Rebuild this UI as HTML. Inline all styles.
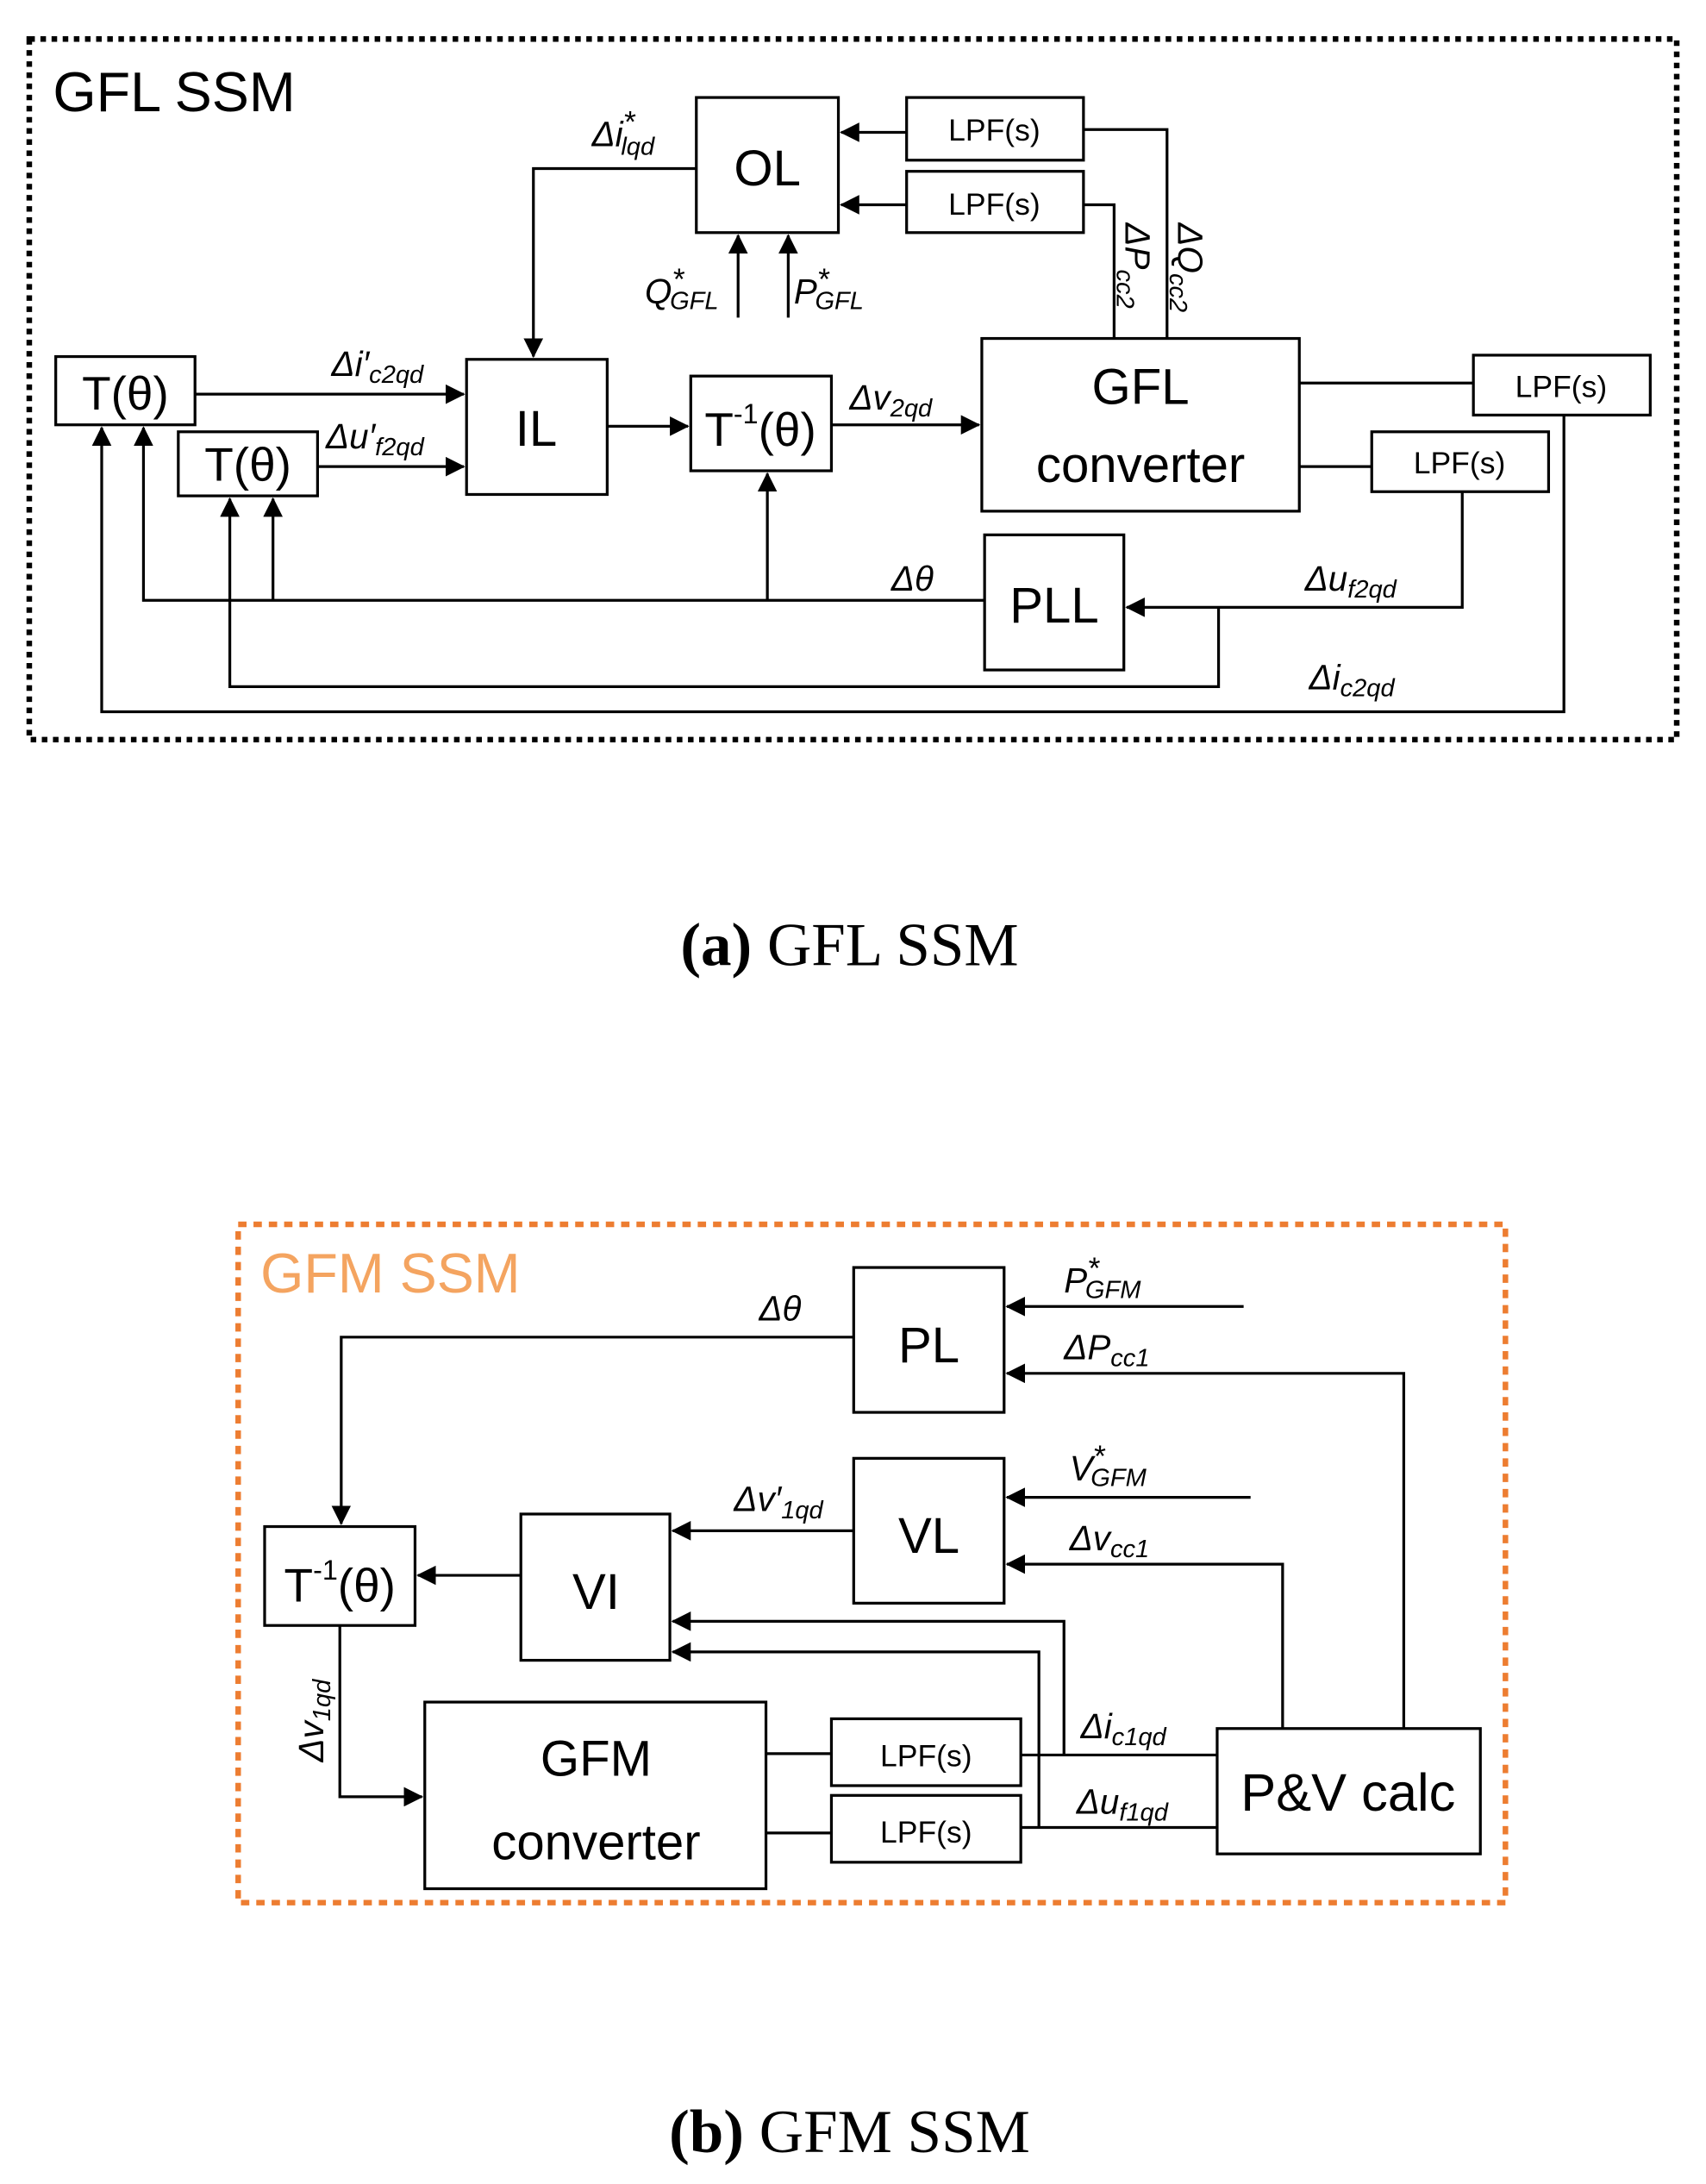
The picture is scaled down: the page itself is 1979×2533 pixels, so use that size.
<!DOCTYPE html>
<html><head><meta charset="utf-8"><style>
html,body{margin:0;padding:0;background:#fff}
svg{display:block}
text{font-family:"Liberation Sans",sans-serif}
.b{font-size:36px;text-anchor:middle}
.l{font-size:22px;text-anchor:middle}
.i{font-size:25px;font-style:italic}
.s{font-size:18px}
</style></head><body>
<svg width="1979" height="2533" viewBox="0 0 1225 1568" xmlns="http://www.w3.org/2000/svg">
<defs>
<marker id="a" markerWidth="14" markerHeight="14" refX="13" refY="7" orient="auto" markerUnits="userSpaceOnUse"><path d="M0,0 L14,7 L0,14z" fill="#000"/></marker>
<marker id="A" markerWidth="14" markerHeight="14" refX="13" refY="7" orient="auto" markerUnits="userSpaceOnUse"><path d="M0,0 L14,7 L0,14z" fill="#000"/></marker>
</defs>
<g fill="none" stroke="#000" stroke-width="2">
<rect x="21" y="28" width="1183" height="503" stroke-width="4" stroke-dasharray="4 4"/>
<rect x="500" y="70" width="102" height="97"/>
<rect x="651" y="70" width="127" height="45"/>
<rect x="651" y="123" width="127" height="44"/>
<rect x="40" y="256" width="100" height="49"/>
<rect x="128" y="310" width="100" height="46"/>
<rect x="335" y="258" width="101" height="97"/>
<rect x="496" y="270" width="101" height="68"/>
<rect x="705" y="243" width="228" height="124"/>
<rect x="1058" y="255" width="127" height="43"/>
<rect x="985" y="310" width="127" height="43"/>
<rect x="707" y="384" width="100" height="97"/>
<path d="M651,95H604" marker-end="url(#A)"/>
<path d="M651,147H604" marker-end="url(#A)"/>
<path d="M778,93H838V243M778,147H800V243"/>
<path d="M500,121H383V256" marker-end="url(#a)"/>
<path d="M530,228V169" marker-end="url(#a)"/>
<path d="M566,228V169" marker-end="url(#a)"/>
<path d="M140,283H333" marker-end="url(#a)"/>
<path d="M228,335H333" marker-end="url(#a)"/>
<path d="M436,306H494" marker-end="url(#a)"/>
<path d="M597,305H703" marker-end="url(#a)"/>
<path d="M933,275H1058M933,335H985"/>
<path d="M1123,298V511H73V307" marker-end="url(#a)"/>
<path d="M1050,353V436H809" marker-end="url(#A)"/>
<path d="M875,436V493H165V358" marker-end="url(#a)"/>
<path d="M707,431H103V307" marker-end="url(#a)"/>
<path d="M196,431V358" marker-end="url(#a)"/>
<path d="M551,431V340" marker-end="url(#a)"/>

<rect x="171" y="879" width="910" height="487" stroke="#ED7D31" stroke-width="4" stroke-dasharray="6 5"/>
<rect x="613" y="910" width="108" height="104"/>
<rect x="613" y="1047" width="108" height="104"/>
<rect x="374" y="1087" width="107" height="105"/>
<rect x="190" y="1096" width="108" height="71"/>
<rect x="305" y="1222" width="245" height="134"/>
<rect x="597" y="1234" width="136" height="48"/>
<rect x="597" y="1289" width="136" height="48"/>
<rect x="874" y="1241" width="189" height="90"/>
<path d="M893,938H723" marker-end="url(#A)"/>
<path d="M1008,1241V986H723" marker-end="url(#A)"/>
<path d="M898,1075H723" marker-end="url(#A)"/>
<path d="M921,1241V1123H723" marker-end="url(#A)"/>
<path d="M613,960H245V1094" marker-end="url(#A)"/>
<path d="M613,1099H483" marker-end="url(#A)"/>
<path d="M374,1131H300" marker-end="url(#A)"/>
<path d="M764,1260V1164H483" marker-end="url(#A)"/>
<path d="M746,1312V1186H483" marker-end="url(#A)"/>
<path d="M733,1260H874M733,1312H874M550,1259H597M550,1316H597"/>
<path d="M244,1167V1290H303" marker-end="url(#A)"/>
</g>
<text x="38" y="80" style="font-size:40px">GFL SSM</text>
<text x="551" y="133" class="b">OL</text>
<text x="714" y="101" class="l">LPF(s)</text>
<text x="714" y="154" class="l">LPF(s)</text>
<text x="90" y="294" class="b" style="font-size:34px">T(θ)</text>
<text x="178" y="345" class="b" style="font-size:34px">T(θ)</text>
<text x="385" y="320" class="b">IL</text>
<text x="546" y="320" class="b" style="font-size:34px">T<tspan dy="-16" style="font-size:20px">-1</tspan><tspan dy="16">(θ)</tspan></text>
<text x="819" y="290" class="b">GFL</text>
<text x="819" y="346" class="b">converter</text>
<text x="1121" y="285" class="l">LPF(s)</text>
<text x="1048" y="340" class="l">LPF(s)</text>
<text x="757" y="447" class="b">PLL</text>
<text x="425" y="105" class="i">Δi<tspan dy="-10" class="s" style="font-size:22px">*</tspan><tspan dx="-10" dy="16" class="s">lqd</tspan></text>
<text x="463" y="218" class="i">Q<tspan dy="-10" style="font-size:22px">*</tspan><tspan dx="-10" dy="14" class="s">GFL</tspan></text>
<text x="570" y="218" class="i">P<tspan dy="-10" style="font-size:22px">*</tspan><tspan dx="-10" dy="14" class="s">GFL</tspan></text>
<text transform="translate(808,160) rotate(90)" class="i">ΔP<tspan dy="6" class="s">cc2</tspan></text>
<text transform="translate(846,160) rotate(90)" class="i">ΔQ<tspan dy="6" class="s">cc2</tspan></text>
<text x="238" y="270" class="i">Δi′<tspan dy="5" class="s">c2qd</tspan></text>
<text x="234" y="322" class="i">Δu′<tspan dy="5" class="s">f2qd</tspan></text>
<text x="610" y="294" class="i">Δv<tspan dy="5" class="s">2qd</tspan></text>
<text x="640" y="424" class="i">Δθ</text>
<text x="937" y="424" class="i">Δu<tspan dy="5" class="s">f2qd</tspan></text>
<text x="940" y="495" class="i">Δi<tspan dy="5" class="s">c2qd</tspan></text>
<text x="610" y="693" style="font-family:'Liberation Serif',serif;font-size:44px;text-anchor:middle"><tspan font-weight="bold">(a)</tspan> GFL SSM</text>

<text x="187" y="928" style="font-size:40px;fill:#F4A460">GFM SSM</text>
<text x="667" y="978" class="b">PL</text>
<text x="667" y="1115" class="b">VL</text>
<text x="428" y="1155" class="b">VI</text>
<text x="244" y="1150" class="b" style="font-size:34px">T<tspan dy="-16" style="font-size:20px">-1</tspan><tspan dy="16">(θ)</tspan></text>
<text x="428" y="1275" class="b">GFM</text>
<text x="428" y="1335" class="b">converter</text>
<text x="665" y="1268" class="l">LPF(s)</text>
<text x="665" y="1323" class="l">LPF(s)</text>
<text x="968" y="1300" class="b" style="font-size:38px">P&amp;V calc</text>
<text x="545" y="948" class="i">Δθ</text>
<text x="764" y="928" class="i">P<tspan dy="-10" style="font-size:22px">*</tspan><tspan dx="-10" dy="14" class="s">GFM</tspan></text>
<text x="764" y="976" class="i">ΔP<tspan dy="5" class="s">cc1</tspan></text>
<text x="768" y="1063" class="i">V<tspan dy="-10" style="font-size:22px">*</tspan><tspan dx="-10" dy="14" class="s">GFM</tspan></text>
<text x="768" y="1113" class="i">Δv<tspan dy="5" class="s">cc1</tspan></text>
<text x="527" y="1085" class="i">Δv′<tspan dy="5" class="s">1qd</tspan></text>
<text x="776" y="1248" class="i">Δi<tspan dy="5" class="s">c1qd</tspan></text>
<text x="773" y="1302" class="i">Δu<tspan dy="5" class="s">f1qd</tspan></text>
<text transform="translate(232,1265) rotate(-90)" class="i">Δv<tspan dy="5" class="s">1qd</tspan></text>
<text x="610" y="1545" style="font-family:'Liberation Serif',serif;font-size:44px;text-anchor:middle"><tspan font-weight="bold">(b)</tspan> GFM SSM</text>
</svg>
</body></html>
